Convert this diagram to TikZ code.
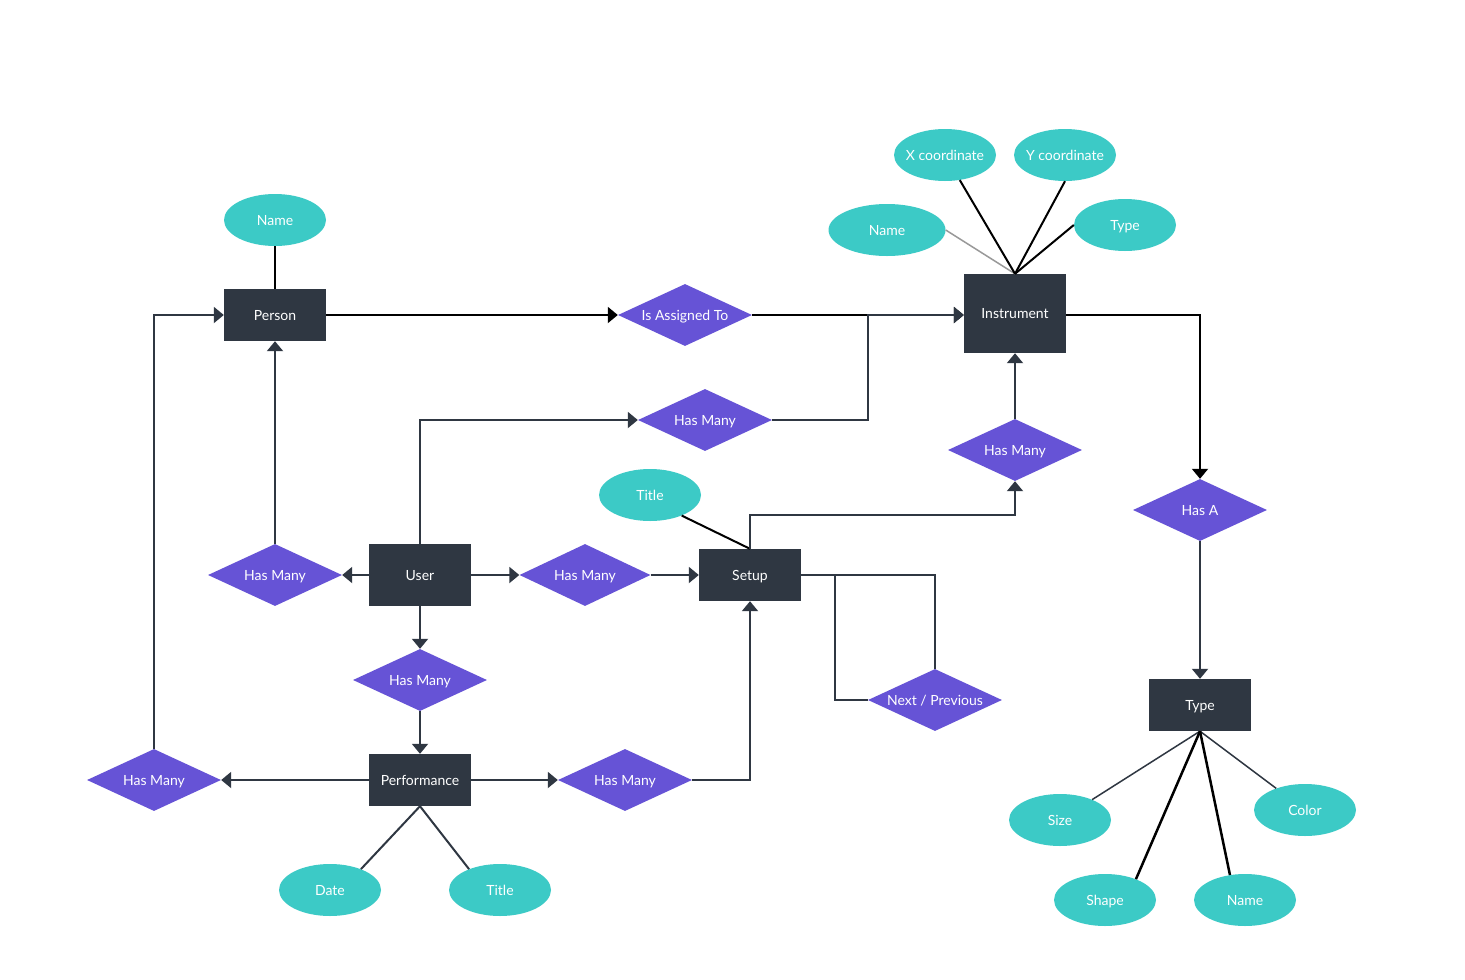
\documentclass[tikz,border=0pt]{standalone}
\usepackage{fontspec}
\setmainfont{Lato}
\usetikzlibrary{shapes.geometric,arrows.meta}
\definecolor{entfill}{HTML}{2F3742}
\definecolor{relfill}{HTML}{6653D6}
\definecolor{attfill}{HTML}{3CCAC6}
\definecolor{linedark}{HTML}{2F3742}
\begin{document}
\begin{tikzpicture}[x=1pt,y=-1pt,
  every node/.style={font=\fontsize{14}{16}\selectfont, text=white, inner sep=0pt,
    text height=10pt, text depth=0pt},
  entity/.style={rectangle, fill=entfill, minimum width=102pt, minimum height=52pt},
  rel/.style={diamond, fill=relfill, aspect=2.16, minimum width=134pt, minimum height=62pt},
  attr/.style={ellipse, fill=attfill, minimum width=102pt, minimum height=52pt},
  conn/.style={draw=linedark, line width=2pt},
  blk/.style={draw=black, line width=2pt},
  tip/.style={-{Triangle[length=10pt,width=16pt]}}]
\path[use as bounding box, fill=white] (0,0) rectangle (1465,980);

% entities
\node[entity] (person) at (275,315) {Person};
\node[entity, minimum height=79pt] (inst) at (1015,313.5) {Instrument};
\node[entity, minimum height=62pt] (user) at (420,575) {User};
\node[entity] (setup) at (750,575) {Setup};
\node[entity] (perf) at (420,780) {Performance};
\node[entity] (type) at (1200,705) {Type};

% relationships
\node[rel] (assign) at (685,315) {Is Assigned To};
\node[rel] (hmA) at (705,420) {Has Many};
\node[rel] (hmB) at (1015,450) {Has Many};
\node[rel] (hasa) at (1200,510) {Has A};
\node[rel] (hmC) at (275,575) {Has Many};
\node[rel, minimum width=131pt] (hmD) at (585,575) {Has Many};
\node[rel] (hmE) at (420,680) {Has Many};
\node[rel] (np) at (935,700) {Next / Previous};
\node[rel] (hmF) at (154,780) {Has Many};
\node[rel] (hmG) at (625,780) {Has Many};

% attributes (labels kept from widening the ellipses)
\node[attr] (pname) at (275,220) {\makebox[0pt]{Name}};
\node[attr] (xco) at (945,155) {\makebox[0pt]{X coordinate}};
\node[attr] (yco) at (1065,155) {\makebox[0pt]{Y coordinate}};
\node[attr, minimum width=117pt] (iname) at (887,230) {\makebox[0pt]{Name}};
\node[attr] (itype) at (1125,225) {\makebox[0pt]{Type}};
\node[attr] (stitle) at (650,495) {\makebox[0pt]{Title}};
\node[attr] (pdate) at (330,890) {\makebox[0pt]{Date}};
\node[attr] (ptitle) at (500,890) {\makebox[0pt]{Title}};
\node[attr] (tsize) at (1060,820) {\makebox[0pt]{Size}};
\node[attr] (tcolor) at (1305,810) {\makebox[0pt]{Color}};
\node[attr] (tshape) at (1105,900) {\makebox[0pt]{Shape}};
\node[attr] (tname) at (1245,900) {\makebox[0pt]{Name}};

% junction points
\coordinate (j1) at (868,315);
\coordinate (j2) at (835,575);

% attribute links
\draw[blk] (pname) -- (person.north);
\draw[draw=black!40, line width=1.5pt] (iname.east) -- (inst.north);
\draw[blk] (xco) -- (inst.north);
\draw[blk] (yco.south) -- (inst.north);
\draw[blk] (itype.west) -- (inst.north);
\draw[blk] (stitle.327) -- (setup.north);
\draw[conn] (pdate.34) -- (perf.south);
\draw[conn] (ptitle.146) -- (perf.south);
\draw[draw=linedark, line width=1.5pt] (tsize) -- (type.south);
\draw[draw=linedark, line width=1.5pt] (tcolor) -- (type.south);
\draw[draw=black, line width=2.5pt] (tshape.34) -- (type.south);
\draw[draw=black, line width=2.5pt] (tname.121) -- (type.south);

% relationship links
\draw[blk, tip] (person.east) -- (assign.west);
\draw[blk, tip] (assign.east) -- (inst.west |- assign.east);
\draw[conn, tip] (hmA.east) -| (j1) -- (inst.west |- j1);
\draw[conn, tip] (user.north) |- (hmA.west);
\draw[blk, tip] (inst.east |- j1) -| (hasa.north);
\draw[conn, tip] (hasa.south) -- (type.north);
\draw[conn, tip] (hmB.north) -- (inst.south);
\draw[conn, tip] (setup.north) -- ++(0,-34) -| (hmB.south);
\draw[conn, tip] (user.west) -- (hmC.east);
\draw[conn, tip] (hmC.north) -- (person.south);
\draw[conn, tip] (user.east) -- (hmD.west);
\draw[conn, tip] (hmD.east) -- (setup.west);
\draw[conn] (setup.east) -| (np.north);
\draw[conn] (np.west) -| (j2);
\draw[conn, tip] (user.south) -- (hmE.north);
\draw[conn, tip] (hmE.south) -- (perf.north);
\draw[conn, tip] (perf.west) -- (hmF.east);
\draw[conn, tip] (hmF.north) |- (person.west);
\draw[conn, tip] (perf.east) -- (hmG.west);
\draw[conn, tip] (hmG.east) -| (setup.south);
\end{tikzpicture}
\end{document}
